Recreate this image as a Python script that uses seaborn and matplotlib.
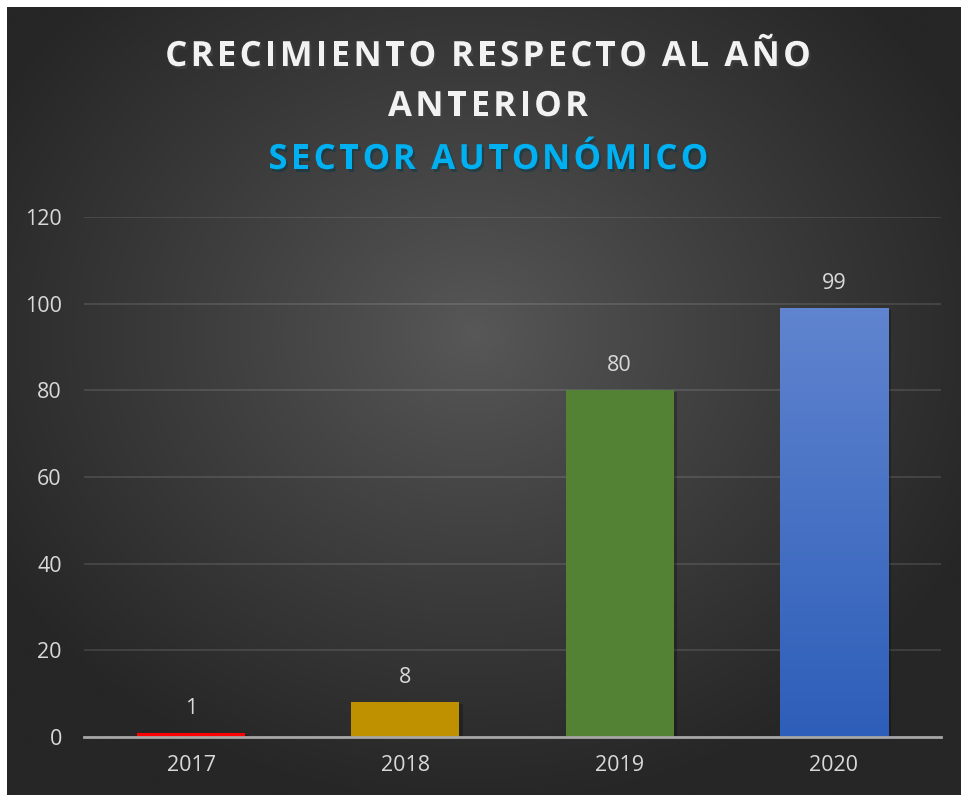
import numpy as np
import pandas as pd
import matplotlib
matplotlib.use('Agg')
import matplotlib.pyplot as plt
import matplotlib.patheffects as pe
from matplotlib.colors import LinearSegmentedColormap
import seaborn as sns

years = ['2017', '2018', '2019', '2020']
growth = [1, 8, 80, 99]
bar_colors = ['#FF0000', '#BF9000', '#548235', '#4A72C8']
yticks = [0, 20, 40, 60, 80, 100, 120]
title_line1 = 'CRECIMIENTO RESPECTO AL AÑO'
title_line2 = 'ANTERIOR'
subtitle = 'SECTOR AUTONÓMICO'

df = pd.DataFrame({'year': years, 'growth': growth})

sns.set_theme(style='dark')
plt.rcParams['font.family'] = ['Open Sans', 'DejaVu Sans']

W, H = 962, 795
fig = plt.figure(figsize=(W / 100, H / 100), dpi=100, facecolor='white')

# radial gradient background
bg = fig.add_axes([7 / W, 0, 1 - 7 / W, 1 - 7 / H])
bg.set_axis_off()
yy, xx = np.mgrid[0:H, 0:W]
r = np.sqrt(((xx - 470) / 560.0) ** 2 + ((yy - 330) / 480.0) ** 2)
r = np.clip(r, 0, 1) ** 0.9
c_in = np.array([0x58, 0x58, 0x58]) / 255
c_out = np.array([0x26, 0x26, 0x26]) / 255
img = c_in[None, None, :] * (1 - r[..., None]) + c_out[None, None, :] * r[..., None]
bg.imshow(img, aspect='auto', extent=[0, 1, 0, 1], interpolation='bilinear')
bg.set_xlim(0, 1)
bg.set_ylim(0, 1)

ax = fig.add_axes([84 / W, 1 - 737 / H, 857 / W, 520 / H])
ax.patch.set_alpha(0)

sns.barplot(data=df, x='year', y='growth', hue='year', palette=bar_colors,
            width=0.505, legend=False, ax=ax, saturation=1, zorder=3,
            linewidth=0, edgecolor='none')

shadow = [pe.SimplePatchShadow(offset=(2.5, -1.5), shadow_rgbFace='black', alpha=0.25), pe.Normal()]
for p in ax.patches:
    p.set_path_effects(shadow)

# gradient fill for the last bar
last = ax.patches[-1]
x0, y0 = last.get_x(), last.get_y()
bw, bh = last.get_width(), last.get_height()
blue_cmap = LinearSegmentedColormap.from_list('blu', ['#2D5EB9', '#6084CF'])
grad = np.linspace(0, 1, 256).reshape(-1, 1)
im = ax.imshow(grad, cmap=blue_cmap, aspect='auto', origin='lower',
               extent=[x0, x0 + bw, y0, y0 + bh], zorder=3.5)
im.set_clip_path(last)

ax.set_xlim(-0.5, 3.5)
ax.set_ylim(0, 120)
ax.set_yticks(yticks)
ax.grid(axis='y', color='#FFFFFF', alpha=0.12, linewidth=1.3, zorder=0)
ax.grid(axis='x', visible=False)
for s in ['top', 'right', 'left']:
    ax.spines[s].set_visible(False)
ax.spines['bottom'].set_color('#A6A6A6')
ax.spines['bottom'].set_linewidth(2)
ax.spines['bottom'].set_zorder(5)
ax.set_xlabel('')
ax.set_ylabel('')
ax.tick_params(axis='y', colors='#D9D9D9', labelsize=15.5, length=0, pad=16)
ax.tick_params(axis='x', colors='#D9D9D9', labelsize=15.5, length=0, pad=13)

for cont in ax.containers:
    ax.bar_label(cont, fmt='%d', padding=10, color='#D9D9D9', fontsize=15.5)

# title with letter spacing
renderer = fig.canvas.get_renderer()


def text_width(s, **kw):
    t = fig.text(0, 0, s + '|', **kw)
    w = t.get_window_extent(renderer).width
    t.remove()
    t = fig.text(0, 0, '|', **kw)
    w -= t.get_window_extent(renderer).width
    t.remove()
    return w


def spaced_text(s, xc, yc, color, track, **kw):
    widths = [text_width(s[:i], **kw) for i in range(len(s) + 1)]
    total = widths[-1] + track * (len(s) - 1)
    left = xc - total / 2
    for i, ch in enumerate(s):
        if ch == ' ':
            continue
        t = fig.text((left + widths[i] + i * track) / W, yc / H, ch, color=color,
                     ha='left', va='center', **kw)
        t.set_path_effects([pe.SimplePatchShadow(offset=(1.5, -2), alpha=0.45), pe.Normal()])


title_kw = dict(fontsize=25, fontweight='bold')
spaced_text(title_line1, 488, H - 57, '#F2F2F2', 3.3, **title_kw)
spaced_text(title_line2, 488, H - 107, '#F2F2F2', 3.3, **title_kw)
spaced_text(subtitle, 488, H - 160, '#00B0F0', 3.3, **title_kw)

fig.savefig('out.png', dpi=100, facecolor='white')
